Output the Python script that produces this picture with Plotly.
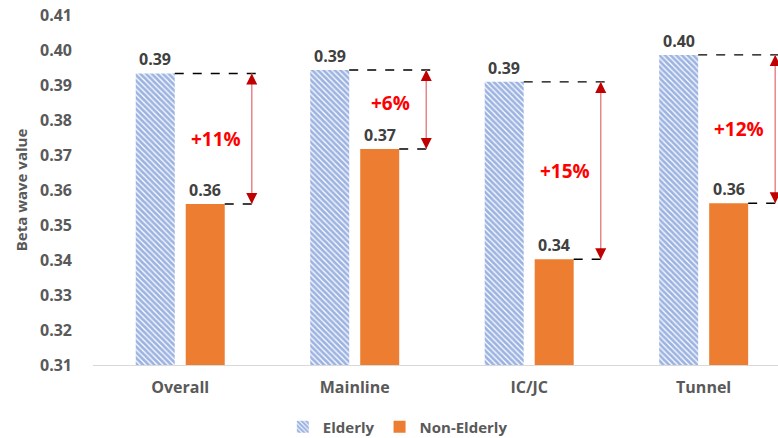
import plotly.graph_objects as go

# Beta wave values by road section
categories = ["Overall", "Mainline", "IC/JC", "Tunnel"]
elderly = [0.3933, 0.3943, 0.3909, 0.3986]
non_elderly = [0.3560, 0.3717, 0.3402, 0.3562]
pct_labels = ["+11%", "+6%", "+15%", "+12%"]
y_ticks = [0.31, 0.32, 0.33, 0.34, 0.35, 0.36, 0.37, 0.38, 0.39, 0.40, 0.41]

# vertical nudge (px) of each percentage label from the arrow midpoint
pct_yshift = [0, 7, 0, 0]

FONT = "Open Sans"
GRAY = "#595959"
LABEL = "#404040"

# geometry of grouped bars (category units)
bargap, bargroupgap = 0.427, 0.22
slot = (1 - bargap) / 2
bar_w = slot * (1 - bargroupgap)
e_center, n_center = -slot / 2, slot / 2
e_right = e_center + bar_w / 2
n_right = n_center + bar_w / 2
arrow_dx = 0.41
dash_end = 0.435
text_dx = 0.205

fig = go.Figure()
fig.add_trace(go.Bar(
    name="Elderly", x=categories, y=elderly,
    marker=dict(color="white",
                pattern=dict(shape="\\", fgcolor="#3a68c4", bgcolor="white",
                             size=4, solidity=0.7),
                line=dict(width=0)),
))
fig.add_trace(go.Bar(
    name="Non-Elderly", x=categories, y=non_elderly,
    marker=dict(color="#ed7d31", line=dict(width=0)),
))

shapes = []
annotations = []
for i, (e, n, lab) in enumerate(zip(elderly, non_elderly, pct_labels)):
    # value labels above each bar
    for dx, v in ((e_center, e), (n_center, n)):
        annotations.append(dict(x=i + dx, y=v, xref="x", yref="y", text=f"{v:.2f}",
                                showarrow=False, yanchor="bottom", yshift=1,
                                font=dict(family=FONT, size=16, color=LABEL, weight="bold")))
    # dashed guides from bar tops to the arrow
    shapes.append(dict(type="line", xref="x", yref="y", x0=i + e_right, x1=i + dash_end,
                       y0=e, y1=e, line=dict(color="black", width=1.4, dash="dash")))
    shapes.append(dict(type="line", xref="x", yref="y", x0=i + n_right, x1=i + dash_end,
                       y0=n, y1=n, line=dict(color="black", width=1.4, dash="dash")))
    # arrow shaft
    shapes.append(dict(type="line", xref="x", yref="y", x0=i + arrow_dx, x1=i + arrow_dx,
                       y0=n, y1=e, line=dict(color="#e8858a", width=1.5)))
    # arrow heads
    for tip, ay in ((e, 12), (n, -12)):
        annotations.append(dict(x=i + arrow_dx, y=tip, xref="x", yref="y", text="",
                                showarrow=True, arrowhead=2, arrowsize=1.7, arrowwidth=1.3,
                                arrowcolor="#c00000", ax=0, ay=ay))
    # percentage difference label
    annotations.append(dict(x=i + text_dx, y=(e + n) / 2, xref="x", yref="y", text=lab,
                            showarrow=False, yshift=pct_yshift[i],
                            font=dict(family=FONT, size=19, color="#ff0000", weight="bold")))

fig.update_layout(
    width=778, height=438,
    margin=dict(l=93, r=0, t=15, b=73, autoexpand=False),
    paper_bgcolor="white", plot_bgcolor="white",
    barmode="group", bargap=bargap, bargroupgap=bargroupgap,
    shapes=shapes, annotations=annotations,
    showlegend=True,
    legend=dict(orientation="h", x=0.445, xanchor="center", y=-0.177, yanchor="middle",
                font=dict(family=FONT, size=15, color=GRAY, weight="bold"), itemwidth=30,
                traceorder="normal"),
    font=dict(family=FONT, color=GRAY),
)
fig.update_xaxes(
    range=[-0.5, 3.426], showgrid=False, showline=True, linecolor="#d9d9d9", linewidth=1.3,
    ticks="", ticklabelstandoff=8,
    tickfont=dict(family=FONT, size=16, color=GRAY, weight="bold"),
)
fig.update_yaxes(
    range=[0.31, 0.41], tickvals=y_ticks, tickformat=".2f", showgrid=False,
    showline=False, zeroline=False, ticks="", ticklabelstandoff=20,
    tickfont=dict(family=FONT, size=16, color=GRAY, weight="bold"),
    title=dict(text="Beta wave value", font=dict(family=FONT, size=15, color=GRAY, weight="bold"),
               standoff=8),
)

fig.write_html("out.html")
